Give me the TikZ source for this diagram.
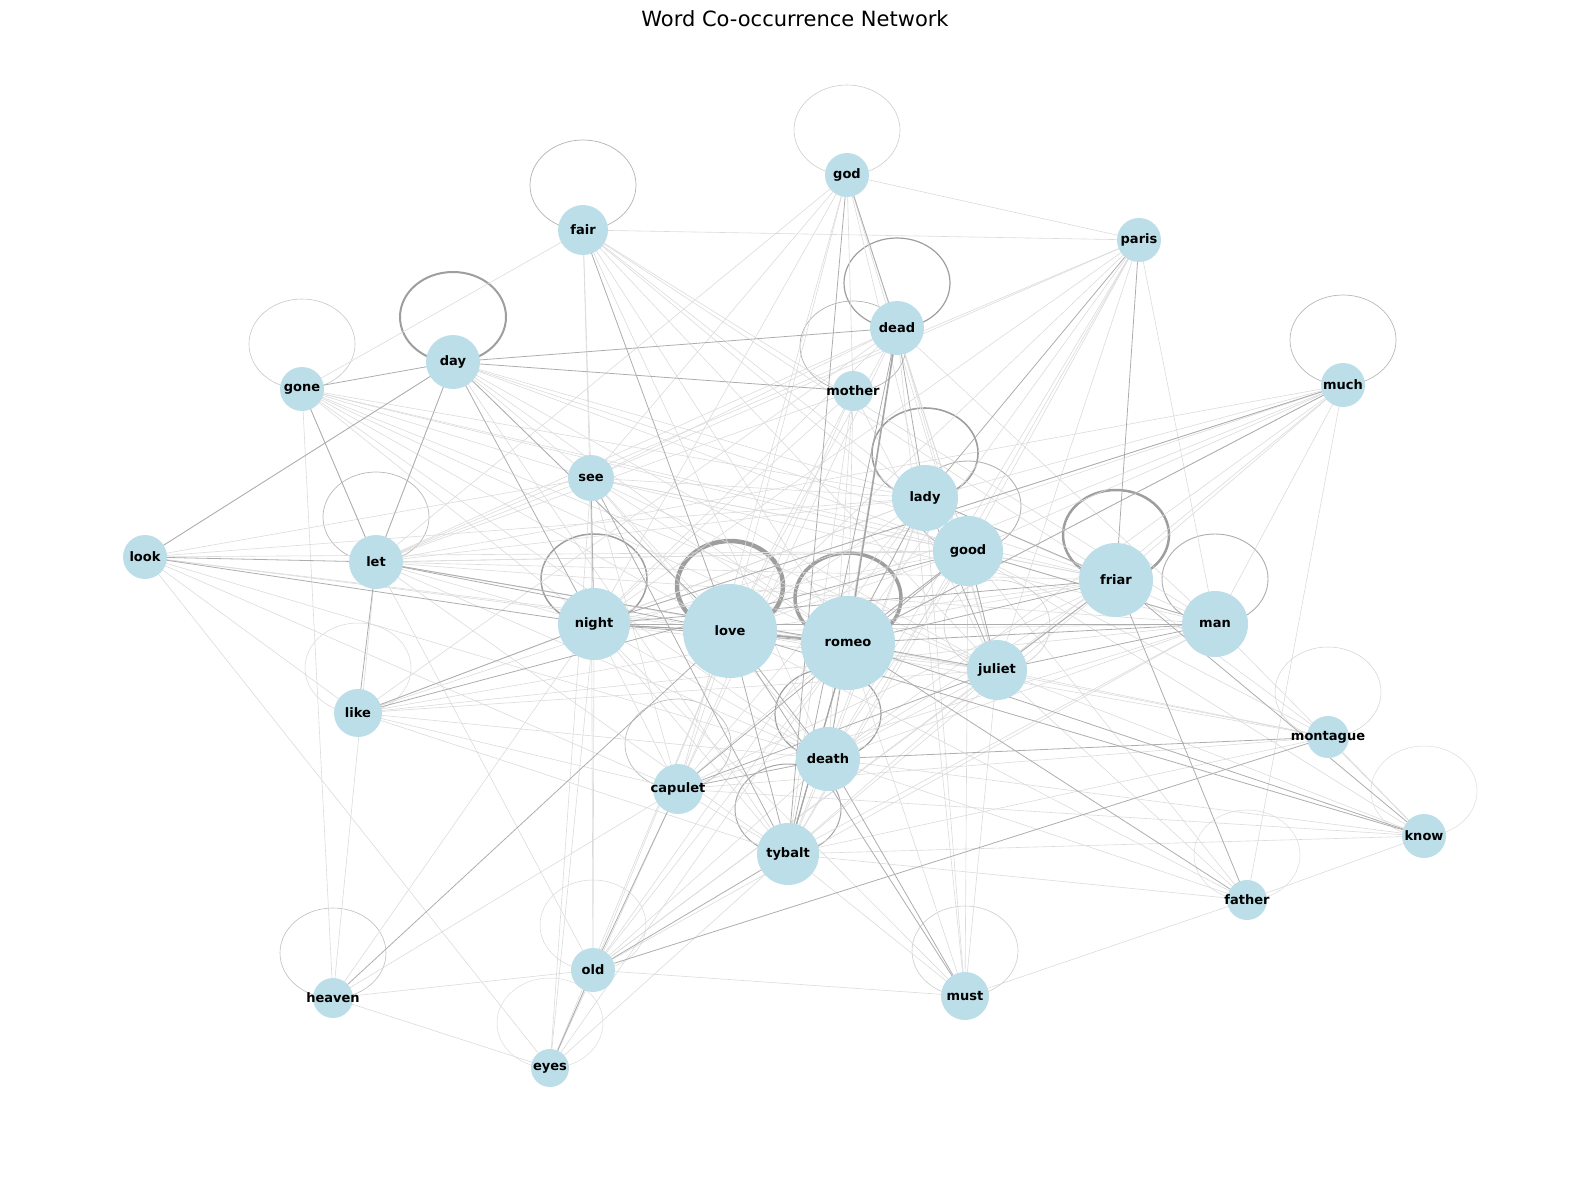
\documentclass[tikz,border=0pt]{standalone}
\usepackage{fontspec}
\setmainfont{DejaVu Sans}
\definecolor{nb}{RGB}{188,222,232}
\begin{document}
\begin{tikzpicture}[x=1pt,y=-1pt,
  wn/.style={circle,fill=nb,inner sep=0pt},
  wl/.style={font=\fontsize{13}{15}\selectfont\bfseries,inner sep=0pt},
  ed/.style={draw=black!32,line width=0.8pt},
  el/.style={draw=black!14,line width=0.6pt}]
\useasboundingbox (0,0) rectangle (1589,1190);
\node[font=\fontsize{21}{24}\selectfont] (title) at (795,19) {Word Co-occurrence Network};
% coordinates
\foreach \n/\x/\y in {god/847/175,fair/583/230,paris/1139/240,dead/897/328,day/453/362,gone/302/389,mother/853/391,much/1343/385,see/591/478,lady/925/498,look/145/557,let/376/562,good/968/551,friar/1116/580,night/594/624,love/730/631,romeo/848/643,man/1215/624,juliet/997/670,like/358/713,montague/1328/737,death/828/759,capulet/678/789,tybalt/788/854,know/1424/836,father/1247/900,old/593/970,must/965/996,heaven/333/998,eyes/550/1068}
  {\coordinate (\n) at (\x,\y);}
% self loops
\foreach \n/\w/\c in {god/0.6/20,fair/0.7/30,dead/1.2/38,mother/0.7/30,day/2/38,gone/0.6/22,much/0.7/28,lady/1.6/38,good/0.9/30,let/0.7/28,night/1.5/38,friar/2.5/38,man/0.9/32,juliet/0.6/20,like/0.5/16,montague/0.5/18,death/1.2/38,capulet/0.7/26,tybalt/1/35,know/0.5/14,father/0.5/14,old/0.5/16,must/0.6/20,heaven/0.6/26,eyes/0.5/14}
  {\draw[draw=black!\c,line width=\w pt] ([yshift=45]\n) ellipse (53 and 45);}
\draw[draw=black!38,line width=4.5pt] ([yshift=45]love) ellipse (53 and 45);
\draw[draw=black!38,line width=3.5pt] ([yshift=45]romeo) ellipse (53 and 45);
% light edges
\foreach \a/\b in {god/see,god/night,god/love,god/juliet,god/good,god/mother,god/lady,god/let,god/capulet,god/paris,fair/romeo,fair/night,fair/see,fair/lady,fair/good,fair/friar,fair/juliet,fair/death,fair/man,fair/gone,fair/paris,paris/night,paris/romeo,paris/love,paris/juliet,paris/good,paris/death,paris/man,paris/see,paris/let,paris/tybalt,dead/love,dead/night,dead/see,dead/let,dead/juliet,dead/good,dead/man,dead/death,dead/like,dead/capulet,dead/must,day/love,day/romeo,day/good,day/friar,day/lady,day/juliet,day/see,day/let,day/tybalt,day/look,gone/love,gone/romeo,gone/night,gone/see,gone/lady,gone/good,gone/let,gone/friar,gone/juliet,gone/death,gone/heaven,mother/love,mother/night,mother/romeo,mother/juliet,mother/let,mother/death,mother/capulet,mother/tybalt,much/love,much/night,much/romeo,much/juliet,much/friar,much/good,much/man,much/lady,much/father,much/death,much/let,much/like,see/romeo,see/love,see/good,see/friar,see/lady,see/juliet,see/man,see/death,see/old,see/eyes,see/look,see/let,see/capulet,lady/night,lady/love,lady/romeo,lady/capulet,lady/tybalt,lady/death,lady/let,lady/look,lady/like,lady/old,lady/man,look/romeo,look/love,look/good,look/like,look/eyes,look/capulet,look/death,let/romeo,let/night,let/good,let/friar,let/juliet,let/death,let/tybalt,let/man,let/heaven,let/old,good/night,good/love,good/romeo,good/friar,good/man,good/juliet,good/death,good/tybalt,good/let,good/montague,good/know,good/father,friar/love,friar/juliet,friar/death,friar/tybalt,friar/capulet,friar/montague,friar/like,friar/old,night/juliet,night/death,night/tybalt,night/capulet,night/old,night/eyes,night/heaven,night/must,love/man,love/juliet,love/capulet,love/old,love/eyes,love/montague,love/father,romeo/capulet,romeo/old,romeo/must,romeo/montague,romeo/eyes,man/death,man/tybalt,man/capulet,man/like,man/know,man/old,juliet/death,juliet/tybalt,juliet/like,juliet/montague,juliet/know,juliet/old,juliet/must,juliet/father,like/death,like/tybalt,like/capulet,montague/tybalt,montague/capulet,montague/know,death/tybalt,death/know,death/old,death/father,capulet/tybalt,capulet/know,capulet/eyes,capulet/heaven,tybalt/must,tybalt/eyes,tybalt/father,know/father,know/tybalt,old/must,old/eyes,heaven/eyes,heaven/old,must/father,must/lady,must/good}
  {\draw[el] (\a) -- (\b);}
% darker edges
\foreach \a/\b in {night/romeo,romeo/friar,romeo/man,romeo/juliet,romeo/death,romeo/tybalt,love/fair,love/let,friar/night,day/dead,day/mother,day/night,good/like,capulet/juliet,capulet/old,old/tybalt,montague/old,death/montague,god/dead,lady/juliet,dead/tybalt,dead/lady,friar/lady,man/night,let/like,look/let,look/night,look/day,lady/paris,friar/paris,much/romeo,much/night,father/romeo,father/friar,know/romeo,know/friar,know/love,must/love,must/death,death/love,capulet/good,capulet/death,tybalt/love,juliet/man,eyes/old,heaven/love,gone/day,gone/let,like/night,let/day,good/juliet,lady/good,love/day,see/night,see/tybalt,good/man,friar/juliet,romeo/let,romeo/lady,romeo/good,god/tybalt}
  {\draw[ed] (\a) -- (\b);}
\draw[draw=black!35,line width=1.8pt] (love) -- (romeo);
\draw[draw=black!35,line width=1.6pt] (romeo) -- (dead);
\draw[draw=black!35,line width=1.3pt] (romeo) -- (tybalt);
\draw[draw=black!35,line width=1.2pt] (night) -- (love);
% nodes
\foreach \n/\r in {god/22,fair/25,paris/22,dead/27,day/27,gone/22,mother/20,much/22,see/23,lady/33,look/22,let/27,good/35,friar/37,night/36,love/47,romeo/47,man/33,juliet/30,like/24,montague/21,death/32,capulet/25,tybalt/31,know/22,father/20,old/22,must/24,heaven/20,eyes/19}
  {\node[wn,minimum size=2*\r pt] (n\n) at (\n) {};
   \node[wl] (t\n) at (\n) {\n};}
\end{tikzpicture}
\end{document}
